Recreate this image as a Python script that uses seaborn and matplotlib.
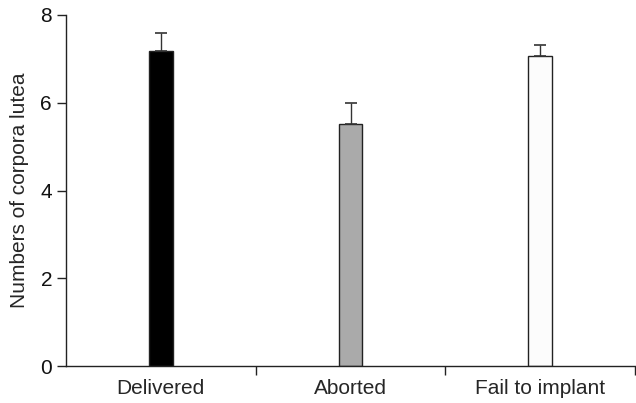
import matplotlib
matplotlib.use('Agg')
import matplotlib.pyplot as plt
import numpy as np
import seaborn as sns

groups = ['Delivered', 'Aborted', 'Fail to implant']
means = [7.18, 5.52, 7.07]
sem = [0.41, 0.48, 0.24]
colors = ['#000000', '#aaaaaa', '#fcfcfc']

sns.set_style('ticks')
plt.rcParams['font.family'] = ['Liberation Sans', 'DejaVu Sans']

fig = plt.figure(figsize=(6.36, 4.03), dpi=100)
ax = fig.add_axes([66 / 636, 37 / 403, 569 / 636, 351 / 403])

sns.barplot(x=groups, y=means, hue=groups, palette=colors, width=0.126,
            edgecolor='#222222', linewidth=1, legend=False, ax=ax)
ax.errorbar(range(len(groups)), means, yerr=[np.zeros(len(sem)), sem],
            fmt='none', ecolor='#333333', elinewidth=1, capsize=4.3,
            capthick=1.2, zorder=1)

ax.set_xlim(-0.5, 2.5)
ax.set_ylim(0, 8)
ax.set_yticks([0, 2, 4, 6, 8])
ax.set_xticks(range(len(groups)))
ax.set_xticklabels(groups, fontsize=15)
ax.set_xticks([0.5, 1.5, 2.5], minor=True)
ax.tick_params(axis='x', which='major', length=0, pad=9)
ax.tick_params(axis='x', which='minor', length=6.5, width=1, color='#222222')
ax.tick_params(axis='y', length=6.5, width=1, color='#222222', labelsize=15,
               labelcolor='#111111')
ax.set_ylabel('Numbers of corpora lutea', fontsize=15, labelpad=8)
ax.set_xlabel('')

sns.despine(ax=ax)
for side in ['left', 'bottom']:
    ax.spines[side].set_color('#222222')
    ax.spines[side].set_linewidth(1)

fig.savefig('out.png', dpi=100)
